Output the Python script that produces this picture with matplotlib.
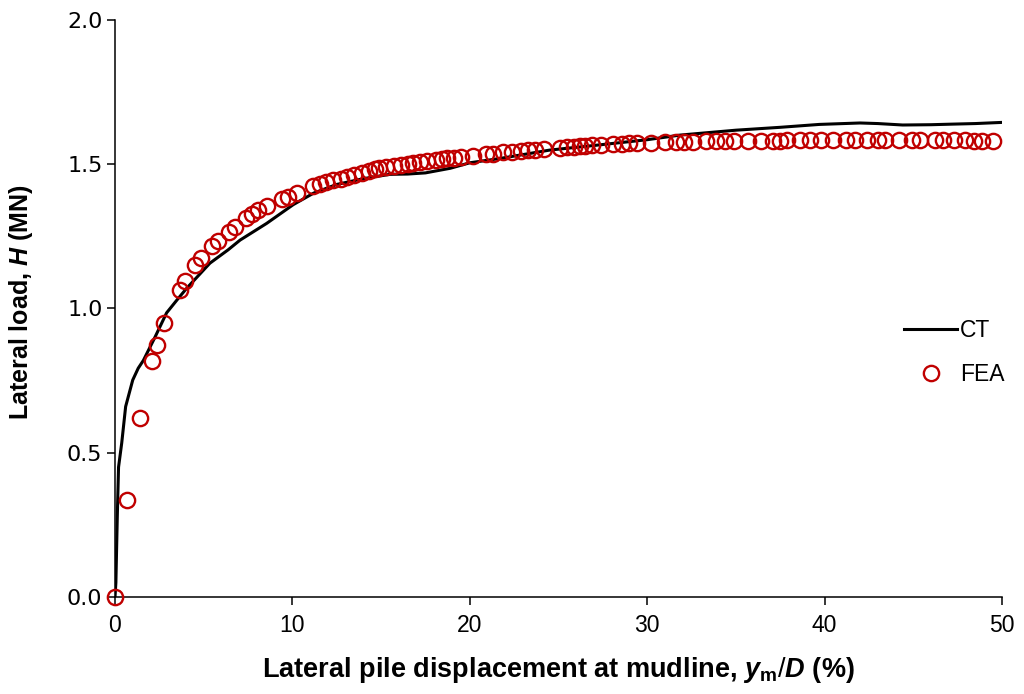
import matplotlib
matplotlib.use("Agg")
import matplotlib.pyplot as plt
from matplotlib.lines import Line2D

# CT: measured load-displacement curve
ct_disp = [0, 0.05, 0.13, 0.2, 0.38, 0.6, 1.0, 1.31, 1.6, 2.25, 2.91, 3.5, 4.04,
           5.35, 6.37, 7.05, 8.55, 10.05, 11.2, 12.5, 14.0, 15.5, 16.5, 17.5, 18.9,
           20.0, 21.7, 24.5, 27.0, 30.0, 31.85, 35.0, 37.5, 39.7, 42.0, 43.0, 44.4,
           46.0, 47.2, 48.5, 50.0]
ct_load = [0, 0.05, 0.28, 0.45, 0.534, 0.66, 0.752, 0.793, 0.82, 0.9, 0.985, 1.03, 1.07,
           1.157, 1.203, 1.237, 1.295, 1.36, 1.40, 1.43, 1.45, 1.465, 1.466, 1.47, 1.486,
           1.505, 1.52, 1.549, 1.565, 1.585, 1.601, 1.618, 1.628, 1.638, 1.643, 1.641, 1.636,
           1.637, 1.639, 1.641, 1.645]

# FEA: computed points
fea_disp = [0, 0.68, 1.41, 2.09, 2.37, 2.76, 3.66, 3.95, 4.5, 4.85,
            5.47, 5.8, 6.43, 6.76, 7.38, 7.72, 8.06, 8.57, 9.4, 9.75,
            10.26, 11.16, 11.56, 11.9, 12.3, 12.75, 13.1, 13.5, 13.9, 14.3,
            14.65, 14.9, 15.3, 15.75, 16.1, 16.5, 16.8, 17.2, 17.6, 18.1,
            18.45, 18.7, 19.1, 19.5, 20.2, 20.9, 21.3, 21.9, 22.4, 22.9,
            23.3, 23.7, 24.2, 25.1, 25.5, 25.9, 26.2, 26.5, 26.9, 27.4,
            28.1, 28.6, 29.0, 29.4, 30.2, 31.0, 31.6, 32.1, 32.6, 33.3,
            33.9, 34.4, 34.9, 35.7, 36.4, 37.1, 37.5, 37.9, 38.6, 39.2,
            39.8, 40.5, 41.2, 41.7, 42.4, 43.0, 43.4, 44.2, 44.9, 45.4,
            46.2, 46.7, 47.3, 47.9, 48.4, 48.9, 49.5]
fea_load = [0, 0.336, 0.62, 0.818, 0.873, 0.95, 1.064, 1.095, 1.15, 1.175,
            1.215, 1.235, 1.265, 1.283, 1.315, 1.328, 1.34, 1.355, 1.38, 1.388,
            1.402, 1.425, 1.432, 1.438, 1.445, 1.45, 1.457, 1.463, 1.47, 1.476,
            1.482, 1.486, 1.49, 1.495, 1.498, 1.501, 1.504, 1.508, 1.512, 1.516,
            1.518, 1.52, 1.523, 1.526, 1.53, 1.534, 1.537, 1.541, 1.544, 1.547,
            1.549, 1.551, 1.553, 1.557, 1.559, 1.561, 1.562, 1.563, 1.565, 1.567,
            1.569, 1.571, 1.572, 1.573, 1.575, 1.576, 1.577, 1.578, 1.578, 1.579,
            1.58, 1.58, 1.581, 1.581, 1.582, 1.582, 1.582, 1.583, 1.583, 1.583,
            1.583, 1.584, 1.584, 1.584, 1.584, 1.584, 1.584, 1.584, 1.584, 1.583,
            1.583, 1.583, 1.583, 1.583, 1.582, 1.582, 1.582]

x_ticks = [0, 10, 20, 30, 40, 50]
y_ticks = [0.0, 0.5, 1.0, 1.5, 2.0]

plt.rcParams['font.family'] = ['Liberation Sans', 'DejaVu Sans']
plt.rcParams['mathtext.fontset'] = 'custom'
plt.rcParams['mathtext.rm'] = 'Liberation Sans'
plt.rcParams['mathtext.bf'] = 'Liberation Sans:bold'
plt.rcParams['mathtext.bfit'] = 'Liberation Sans:italic:bold'

red = '#C00000'

fig = plt.figure(figsize=(10.24, 6.94), dpi=100)
ax = fig.add_axes([0.1123, 0.1398, 0.8662, 0.8314])

ax.plot(ct_disp, ct_load, color='black', lw=2.2, zorder=2)
ax.plot(fea_disp, fea_load, ls='none', marker='o', ms=11, mfc='none',
        mec=red, mew=1.7, zorder=3, clip_on=False)

ax.set_xlim(0, 50)
ax.set_ylim(0, 2.0)
ax.set_xticks(x_ticks)
ax.set_yticks(y_ticks)
ax.set_yticklabels([f"{v:.1f}" for v in y_ticks], family='DejaVu Sans', fontsize=16)
ax.set_xticklabels([str(v) for v in x_ticks], fontsize=16.5)

for s in ['top', 'right']:
    ax.spines[s].set_visible(False)
for s in ['left', 'bottom']:
    ax.spines[s].set_linewidth(1.1)
ax.tick_params(direction='out', length=6, width=1.1)
ax.tick_params(axis='y', pad=3)
ax.tick_params(axis='x', pad=6)

ax.set_ylabel(r"Lateral load, $\mathbfit{H}$ (MN)", fontsize=18, fontweight='bold')
ax.yaxis.set_label_coords(-0.09, 0.51)
ax.set_xlabel(r"Lateral pile displacement at mudline, $\mathbfit{y}_\mathbf{m}/\mathbfit{D}$ (%)",
              fontsize=19.5, fontweight='bold')
ax.xaxis.set_label_coords(0.5, -0.10)

handles = [Line2D([], [], color='black', lw=2.2),
           Line2D([], [], ls='none', marker='o', ms=11, mfc='none', mec=red, mew=1.7)]
ax.legend(handles, ['CT', 'FEA'], loc='center left', bbox_to_anchor=(0.8665, 0.424),
          frameon=False, fontsize=16.5, handlelength=2.3, handletextpad=0.15,
          labelspacing=0.92)

fig.savefig('out.png', dpi=100)
